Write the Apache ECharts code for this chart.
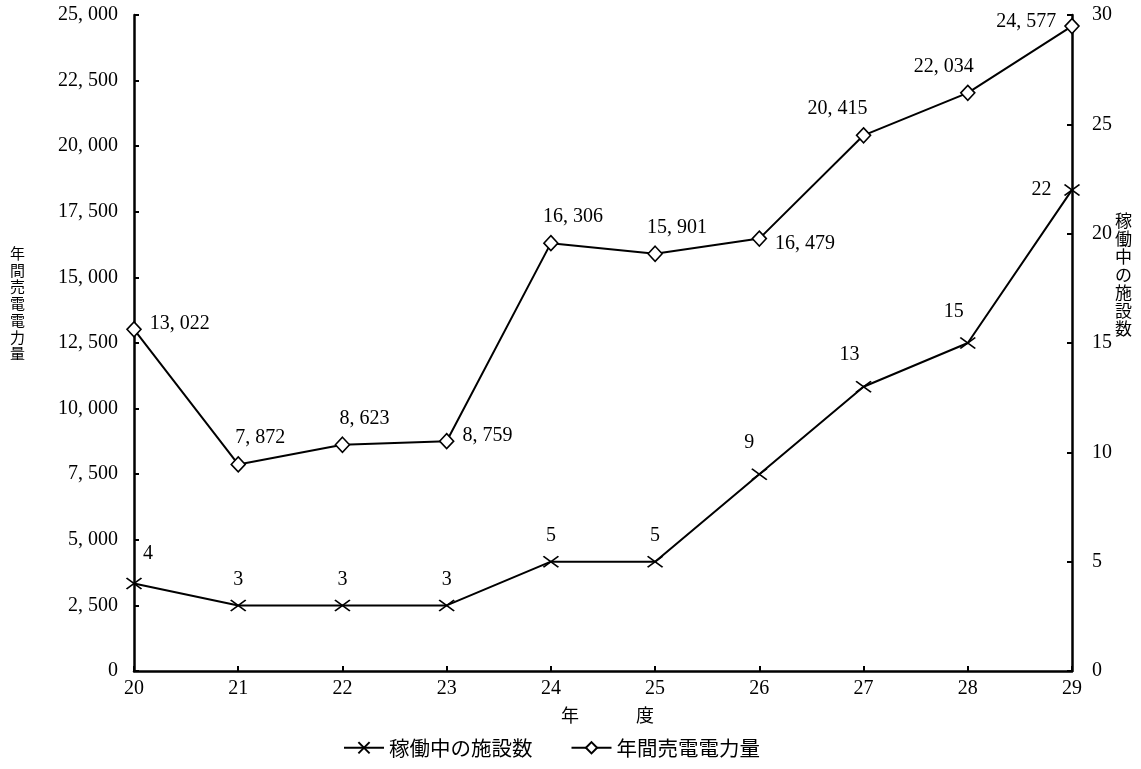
<!DOCTYPE html>
<html><head><meta charset="utf-8">
<script src="https://cdn.jsdelivr.net/npm/echarts@6/dist/echarts.min.js"></script>
<style>html,body{margin:0;padding:0;background:#fff}#c{width:1141px;height:769px}</style>
</head><body><div id="c"></div>
<script>
const categories = ['20','21','22','23','24','25','26','27','28','29'];
const facilityCount = [4,3,3,3,5,5,9,13,15,22];
const annualPower = [13022,7872,8623,8759,16306,15901,16479,20415,22034,24577];
const leftTicks = [0,2500,5000,7500,10000,12500,15000,17500,20000,22500,25000];
const rightTicks = [0,5,10,15,20,25,30];

// label placement styles (not data)
const powerLabelPos = [['right',[0,-6]],['top',[22,0]],['top',[22,0]],['right',[0,-5]],['top',[22,0]],['top',[22,0]],['right',[0,5]],['top',[-26,0]],['top',[-24,0]],['left',[0,-4]]];
const countLabelPos = [['top',[14,-4]],['top',[0,0]],['top',[0,0]],['top',[0,0]],['top',[0,0]],['top',[0,0]],['top',[-10,-6]],['top',[-14,-6]],['top',[-14,-6]],['left',[-2,0]]];

const FONT = "'Liberation Serif','Noto Sans CJK JP',serif";
const JFONT = "'Noto Sans CJK JP','Liberation Serif',sans-serif";
const fmt = v => { const s = String(v); return s.length > 3 ? s.slice(0, s.length-3) + ', ' + s.slice(-3) : s; };
const crossPath = 'path://M0,0L14,10M14,0L0,10';

const chart = echarts.init(document.getElementById('c'));
chart.setOption({
  animation: false,
  backgroundColor: '#fff',
  grid: {left: 134, right: 69, top: 15, bottom: 98},
  legend: {
    bottom: 6, left: 338, itemWidth: 40, itemHeight: 14, itemGap: 38,
    textStyle: {fontFamily: JFONT, fontSize: 20.5, color: '#000'},
    data: ['稼働中の施設数', '年間売電電力量']
  },
  xAxis: {
    type: 'category', data: categories, boundaryGap: false,
    axisLine: {lineStyle: {color: '#000', width: 2.5}},
    axisTick: {inside: true, length: 5, lineStyle: {color: '#000', width: 2}},
    axisLabel: {color: '#000', fontFamily: FONT, fontSize: 20, margin: 8},
    splitLine: {show: false}
  },
  yAxis: [
    {
      type: 'value', min: 0, max: 25000, interval: 2500, position: 'left',
      axisLine: {show: true, lineStyle: {color: '#000', width: 2.5}},
      axisTick: {show: true, inside: true, length: 5, lineStyle: {color: '#000', width: 2}},
      axisLabel: {color: '#000', fontFamily: FONT, fontSize: 20, margin: 16, formatter: v => fmt(v)},
      splitLine: {show: false}
    },
    {
      type: 'value', min: 0, max: 30, interval: 5, position: 'right',
      axisLine: {show: true, lineStyle: {color: '#000', width: 2.5}},
      axisTick: {show: true, inside: true, length: 5, lineStyle: {color: '#000', width: 2}},
      axisLabel: {color: '#000', fontFamily: FONT, fontSize: 20, margin: 20},
      splitLine: {show: false}
    }
  ],
  graphic: [
    {type: 'text', left: 10, top: 245, style: {text: '年\n間\n売\n電\n電\n力\n量', font: "15px 'Noto Sans CJK JP'", lineHeight: 16.7, fill: '#000'}},
    {type: 'text', left: 1115, top: 212, style: {text: '稼\n働\n中\nの\n施\n設\n数', font: "17px 'Noto Sans CJK JP'", lineHeight: 18, fill: '#000'}},
    {type: 'text', left: 561, top: 706, style: {text: '年', font: "18px 'Noto Sans CJK JP'", fill: '#000'}},
    {type: 'text', left: 636, top: 706, style: {text: '度', font: "18px 'Noto Sans CJK JP'", fill: '#000'}}
  ],
  series: [
    {
      name: '稼働中の施設数', type: 'line', yAxisIndex: 1,
      symbol: crossPath, symbolSize: [15, 11],
      lineStyle: {color: '#000', width: 2},
      itemStyle: {color: 'none', borderColor: '#000', borderWidth: 1.6},
      data: facilityCount.map((v, i) => ({
        value: v,
        label: {show: true, position: countLabelPos[i][0], offset: countLabelPos[i][1], distance: 8,
          color: '#000', fontFamily: FONT, fontSize: 20, formatter: p => fmt(p.value)}
      }))
    },
    {
      name: '年間売電電力量', type: 'line', yAxisIndex: 0,
      symbol: 'diamond', symbolSize: [14, 15],
      lineStyle: {color: '#000', width: 2},
      itemStyle: {color: '#fff', borderColor: '#000', borderWidth: 1.6},
      data: annualPower.map((v, i) => ({
        value: v,
        label: {show: true, position: powerLabelPos[i][0], offset: powerLabelPos[i][1], distance: 8,
          color: '#000', fontFamily: FONT, fontSize: 20, formatter: p => fmt(p.value)}
      }))
    }
  ]
});
</script></body></html>
